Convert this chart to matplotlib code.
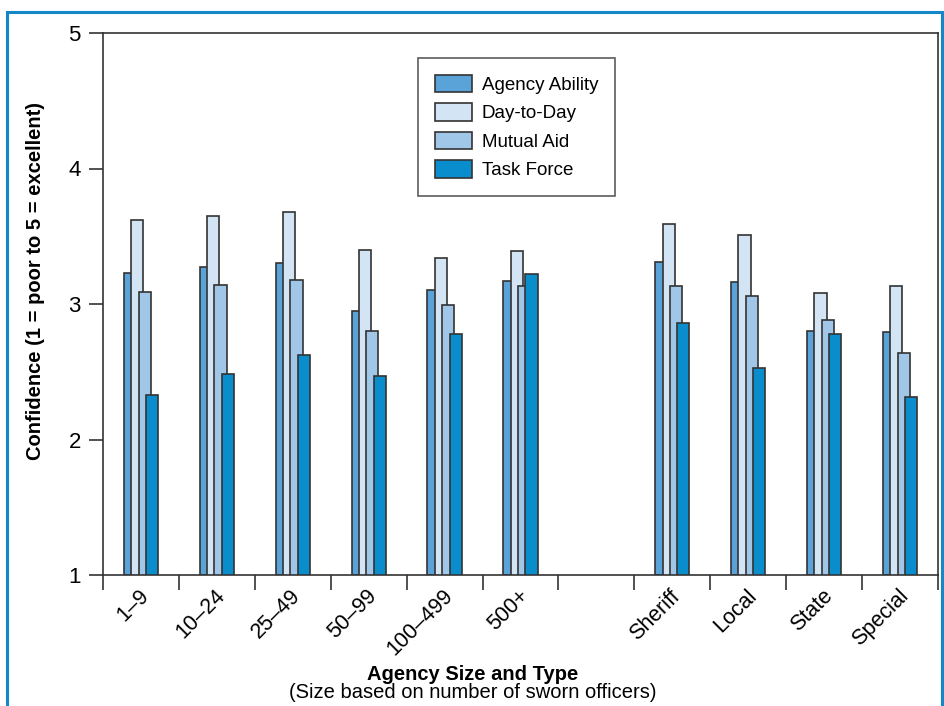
import numpy as np
import matplotlib
matplotlib.use("Agg")
import matplotlib.pyplot as plt
import matplotlib.transforms as mtransforms
from matplotlib.patches import Rectangle

plt.rcParams['font.family'] = ['Liberation Sans', 'DejaVu Sans']

# slot labels (blank slot separates size from type)
categories = ['1\u20139', '10\u201324', '25\u201349', '50\u201399', '100\u2013499', '500+',
              '', 'Sheriff', 'Local', 'State', 'Special']

series = ['Agency Ability', 'Day-to-Day', 'Mutual Aid', 'Task Force']
agency_ability = [3.23, 3.27, 3.30, 2.95, 3.10, 3.17, None, 3.31, 3.16, 2.80, 2.79]
day_to_day     = [3.62, 3.65, 3.68, 3.40, 3.34, 3.39, None, 3.59, 3.51, 3.08, 3.13]
mutual_aid     = [3.09, 3.14, 3.18, 2.80, 2.99, 3.13, None, 3.13, 3.06, 2.88, 2.64]
task_force     = [2.33, 2.48, 2.62, 2.47, 2.78, 3.22, None, 2.86, 2.53, 2.78, 2.31]

colors = ['#5aa3d9', '#d3e4f4', '#a0c7e8', '#0a8dcd']
edge = '#333333'

fig = plt.figure(figsize=(9.44, 7.06), dpi=100)
ax = fig.add_axes([103/944, 1-575/706, (938-103)/944, (575-33)/706])

x = np.arange(len(categories))
width = 0.16
step = 0.097
all_vals = [agency_ability, day_to_day, mutual_aid, task_force]
for i, (name, vals) in enumerate(zip(series, all_vals)):
    xs = [xi + (i - 1.5)*step for xi, v in zip(x, vals) if v is not None]
    hs = [v - 1 for v in vals if v is not None]
    ax.bar(xs, hs, width=width, bottom=1, color=colors[i], edgecolor=edge,
           linewidth=1.2, label=name, zorder=2+i)

ax.set_xlim(-0.5, len(categories) - 0.5)
ax.set_ylim(1, 5)
ax.set_yticks([1, 2, 3, 4, 5])
ax.tick_params(axis='y', direction='out', length=10, width=1.2, labelsize=16, pad=6, color='#333333')

ax.set_xticks(x)
ax.set_xticklabels(categories, rotation=45, ha='right', va='center', rotation_mode='anchor', fontsize=15.5)
ax.set_xticks(np.arange(-0.5, len(categories) + 0.5, 1), minor=True)
ax.tick_params(axis='x', which='major', length=0, pad=13)
ax.tick_params(axis='x', which='minor', direction='out', length=11, width=1.2, color='#333333')
# nudge the rotated labels a little to the right
shift = mtransforms.ScaledTranslation(5/100, 0, fig.dpi_scale_trans)
for lbl in ax.get_xticklabels():
    lbl.set_transform(lbl.get_transform() + shift)

for s in ax.spines.values():
    s.set_color('#333333')
    s.set_linewidth(1.2)

ax.set_ylabel('Confidence (1 = poor to 5 = excellent)', fontsize=14.5, fontweight='bold')
ax.yaxis.set_label_coords(-0.07, 0.542)

leg = ax.legend(loc='upper left', bbox_to_anchor=(315/835, 1 - 25/542), fontsize=13.5,
                frameon=True, fancybox=False, edgecolor='#333333', handlelength=2.0,
                handleheight=1.05, labelspacing=0.5, borderpad=0.9, handletextpad=0.5,
                borderaxespad=0)
leg.get_frame().set_linewidth(1.2)

fig.text(473/944, 1 - 674/706, 'Agency Size and Type', ha='center', va='center',
         fontsize=14.5, fontweight='bold')
fig.text(473/944, 1 - 692/706, '(Size based on number of sworn officers)', ha='center',
         va='center', fontsize=14.5)

# blue frame around the figure (bottom edge falls outside)
fig.patches.append(Rectangle((6.5/944, -0.05), (941.5-6.5)/944, 1.05 - 12.5/706,
                             transform=fig.transFigure, fill=False,
                             edgecolor='#1487c9', linewidth=2.2))

fig.savefig('out.png', dpi=100)
